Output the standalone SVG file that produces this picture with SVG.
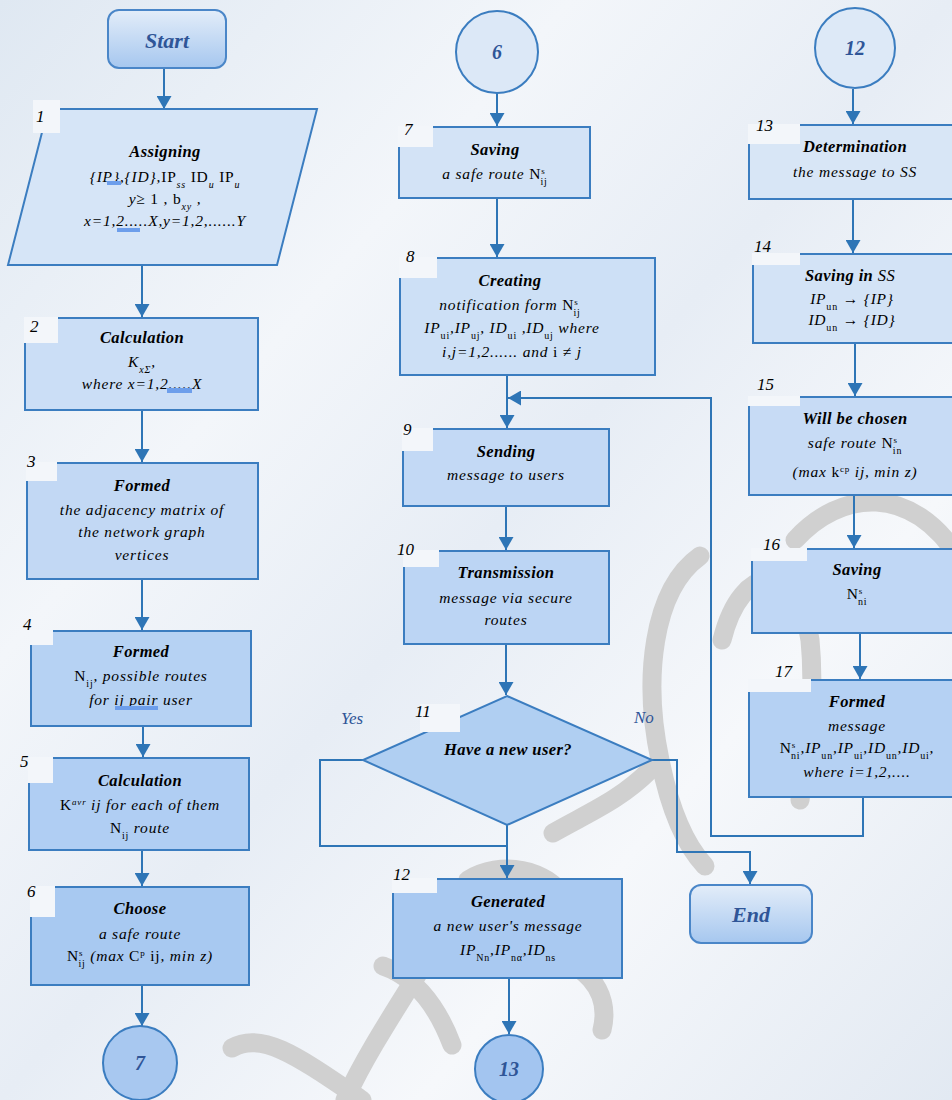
<svg xmlns="http://www.w3.org/2000/svg" width="952" height="1100" viewBox="0 0 952 1100">
<defs>
<linearGradient id="bg" x1="0" y1="0" x2="1" y2="1">
<stop offset="0" stop-color="#dfe8f2"/>
<stop offset="0.3" stop-color="#f3f6fa"/>
<stop offset="0.5" stop-color="#e7edf5"/>
<stop offset="0.72" stop-color="#f6f8fb"/>
<stop offset="1" stop-color="#e2e9f2"/>
</linearGradient>
<linearGradient id="term" x1="0" y1="0" x2="0" y2="1">
<stop offset="0" stop-color="#e3edf9"/>
<stop offset="1" stop-color="#a6c7ef"/>
</linearGradient>
<marker id="ah" markerWidth="15" markerHeight="15" refX="13" refY="7.5" orient="auto" markerUnits="userSpaceOnUse">
<path d="M0,0 L13,7.5 L0,15 Z" fill="#2e75b6"/>
</marker>
</defs>
<style>
.box{stroke:#3b7dc0;stroke-width:2;}
.term{fill:url(#term);stroke:#4a86c8;stroke-width:2;}
.circ{stroke:#3b7dc0;stroke-width:2;}
.notch{fill:#f3f6fa;}
.conn{fill:none;stroke:#2e75b6;stroke-width:2;}
.arr{marker-end:url(#ah);}
.wm{fill:none;stroke:#d0d0d0;stroke-width:19;stroke-linecap:round;}
text{font-family:"Liberation Serif","DejaVu Serif",serif;font-style:italic;fill:#000;}
.t{font-size:16.5px;font-weight:bold;text-anchor:middle;letter-spacing:0.4px;}
.b{font-size:15.5px;text-anchor:middle;letter-spacing:0.8px;}
.n{font-size:17px;}
.m{font-style:normal;}
.blue{fill:#2f5597;font-weight:bold;text-anchor:middle;}
.yn{font-size:17px;fill:#2f5597;}
.hl{fill:#6d9eeb;}
</style>
<rect x="0" y="0" width="952" height="1100" fill="url(#bg)"/>

<g id="watermark">
<path class="wm" d="M232 1048 C262 1030 300 1058 362 1100"/>
<path class="wm" d="M345 1100 C372 1040 420 975 470 888"/>
<path class="wm" d="M383 966 C410 975 435 1000 452 1045"/>
<path class="wm" d="M468 880 C500 860 548 868 566 900 C580 930 560 948 540 958 C582 958 612 990 602 1030"/>
<path class="wm" d="M553 833 C590 812 620 800 650 770"/>
<path class="wm" d="M700 556 C652 590 643 680 660 760 C672 820 690 850 705 866"/>
<path class="wm" d="M722 640 C742 560 798 560 810 640 C816 700 806 760 800 800"/>
<path class="wm" d="M795 540 C840 490 912 482 960 560"/>
</g>

<g id="connectors">
<path class="conn arr" d="M164 68 V109"/>
<path class="conn arr" d="M142 265 V317"/>
<path class="conn arr" d="M142 410 V462"/>
<path class="conn arr" d="M142 579 V630"/>
<path class="conn arr" d="M143 726 V757"/>
<path class="conn arr" d="M142 850 V886"/>
<path class="conn arr" d="M142 985 V1026"/>
<path class="conn arr" d="M497 93 V126"/>
<path class="conn arr" d="M497 198 V257"/>
<path class="conn arr" d="M507 375 V428"/>
<path class="conn arr" d="M863 797 V836 H711 V398 H508"/>
<path class="conn arr" d="M506 506 V550"/>
<path class="conn arr" d="M506 644 V695"/>
<path class="conn arr" d="M507 825 V878"/>
<path class="conn" d="M363 760 H320 V846 H507"/>
<path class="conn arr" d="M652 760 H677 V852 H750 V884"/>
<path class="conn arr" d="M509 978 V1034"/>
<path class="conn arr" d="M853 89 V124"/>
<path class="conn arr" d="M853 199 V253"/>
<path class="conn arr" d="M855 343 V396"/>
<path class="conn arr" d="M854 495 V548"/>
<path class="conn arr" d="M860 633 V679"/>
</g>

<g id="start">
<rect class="term" x="108" y="10" width="118" height="58" rx="11"/>
<text class="blue" x="167" y="48" font-size="22">Start</text>
</g>

<g id="n1">
<polygon class="box" fill="#d6e5f7" points="48,109 317,109 277,265 8,265"/>
<rect class="notch" x="33" y="100" width="27" height="33"/>
<text class="n" x="36" y="122">1</text>
<text class="t" x="165" y="157">Assigning</text>
<text class="b" x="165" y="182">{IP},{ID},<tspan class="m">IP</tspan><tspan font-size="10" baseline-shift="sub">ss</tspan> <tspan class="m">ID</tspan><tspan font-size="10" baseline-shift="sub">u</tspan> <tspan class="m">IP</tspan><tspan font-size="10" baseline-shift="sub">u</tspan></text>
<text class="b" x="165" y="204">y≥ <tspan class="m">1 , b</tspan><tspan font-size="10" baseline-shift="sub">xy</tspan> ,</text>
<text class="b" x="165" y="226">x=1,2.....X,y=1,2,......Y</text>
<rect class="hl" x="107" y="181" width="14" height="4"/>
<rect class="hl" x="117" y="228" width="23" height="4"/>
</g>

<g id="n2">
<rect class="box" fill="#cbdef6" x="25" y="318" width="233" height="92"/>
<rect class="notch" x="24" y="317" width="34" height="26"/>
<text class="n" x="30" y="332">2</text>
<text class="t" x="142" y="343">Calculation</text>
<text class="b" x="142" y="367">K<tspan font-size="10" baseline-shift="sub">xΣ</tspan>,</text>
<text class="b" x="142" y="389">where x=1,2.....X</text>
<rect class="hl" x="167" y="388" width="25" height="5"/>
</g>

<g id="n3">
<rect class="box" fill="#c2d8f4" x="27" y="463" width="231" height="116"/>
<rect class="notch" x="26" y="462" width="31" height="19"/>
<text class="n" x="27" y="467">3</text>
<text class="t" x="142" y="491">Formed</text>
<text class="b" x="142" y="515">the adjacency matrix of</text>
<text class="b" x="142" y="537">the network graph</text>
<text class="b" x="142" y="560">vertices</text>
</g>

<g id="n4">
<rect class="box" fill="#b6d2f3" x="31" y="631" width="220" height="95"/>
<rect class="notch" x="30" y="630" width="23" height="15"/>
<text class="n" x="23" y="630">4</text>
<text class="t" x="141" y="657">Formed</text>
<text class="b" x="141" y="681"><tspan class="m">N</tspan><tspan font-size="10" baseline-shift="sub" class="m">ij</tspan>, possible routes</text>
<text class="b" x="141" y="705">for ij pair user</text>
<rect class="hl" x="115" y="706" width="43" height="4"/>
</g>

<g id="n5">
<rect class="box" fill="#b0cef3" x="29" y="758" width="220" height="92"/>
<rect class="notch" x="28" y="757" width="25" height="26"/>
<text class="n" x="20" y="767">5</text>
<text class="t" x="140" y="786">Calculation</text>
<text class="b" x="140" y="810"><tspan class="m">K</tspan><tspan font-size="9" baseline-shift="super">avr</tspan> ij for each of them</text>
<text class="b" x="140" y="833"><tspan class="m">N</tspan><tspan font-size="10" baseline-shift="sub" class="m">ij</tspan> route</text>
</g>

<g id="n6">
<rect class="box" fill="#a8c9f1" x="31" y="887" width="218" height="98"/>
<rect class="notch" x="30" y="886" width="25" height="31"/>
<text class="n" x="27" y="897">6</text>
<text class="t" x="140" y="914">Choose</text>
<text class="b" x="140" y="939">a safe route</text>
<text class="b" x="140" y="961"><tspan class="m">N</tspan><tspan font-size="9" baseline-shift="super" class="m">s</tspan><tspan font-size="10" dx="-5" baseline-shift="sub" class="m">ij</tspan> (max <tspan class="m">C</tspan><tspan font-size="9" baseline-shift="super" class="m">p</tspan> <tspan class="m">ij</tspan>, min z)</text>
</g>

<g id="c7">
<circle class="circ" fill="#a8c8f0" cx="140" cy="1063" r="37"/>
<text class="blue" x="140" y="1070" font-size="20">7</text>
</g>

<g id="c6">
<circle class="circ" fill="#dce8f7" cx="497" cy="52" r="41"/>
<text class="blue" x="497" y="59" font-size="20" font-weight="normal">6</text>
</g>

<g id="n7">
<rect class="box" fill="#d3e3f6" x="399" y="127" width="191" height="71"/>
<rect class="notch" x="398" y="126" width="35" height="21"/>
<text class="n" x="404" y="135">7</text>
<text class="t" x="495" y="155">Saving</text>
<text class="b" x="495" y="179">a safe route <tspan class="m">N</tspan><tspan font-size="9" baseline-shift="super" class="m">s</tspan><tspan font-size="10" dx="-5" baseline-shift="sub" class="m">ij</tspan></text>
</g>

<g id="n8">
<rect class="box" fill="#cde0f6" x="400" y="258" width="255" height="117"/>
<rect class="notch" x="399" y="257" width="38" height="21"/>
<text class="n" x="406" y="262">8</text>
<text class="t" x="510" y="286">Creating</text>
<text class="b" x="510" y="310">notification form <tspan class="m">N</tspan><tspan font-size="9" baseline-shift="super" class="m">s</tspan><tspan font-size="10" dx="-5" baseline-shift="sub" class="m">ij</tspan></text>
<text class="b" x="512" y="333">IP<tspan font-size="10" baseline-shift="sub" class="m">ui</tspan>,IP<tspan font-size="10" baseline-shift="sub" class="m">uj</tspan>, ID<tspan font-size="10" baseline-shift="sub" class="m">ui</tspan> ,ID<tspan font-size="10" baseline-shift="sub" class="m">uj</tspan> where</text>
<text class="b" x="512" y="357">i,j=1,2...... and <tspan class="m">i ≠</tspan> j</text>
</g>

<g id="n9">
<rect class="box" fill="#c3d9f5" x="403" y="429" width="206" height="77"/>
<rect class="notch" x="402" y="428" width="31" height="23"/>
<text class="n" x="403" y="435">9</text>
<text class="t" x="506" y="457">Sending</text>
<text class="b" x="506" y="480">message  to users</text>
</g>

<g id="n10">
<rect class="box" fill="#bcd5f4" x="404" y="551" width="205" height="93"/>
<rect class="notch" x="403" y="550" width="36" height="17"/>
<text class="n" x="397" y="555">10</text>
<text class="t" x="506" y="578">Transmission</text>
<text class="b" x="506" y="603">message  via secure</text>
<text class="b" x="506" y="625">routes</text>
</g>

<g id="n11">
<polygon class="box" fill="#b0cff2" points="507,696 652,760 507,825 363,760"/>
<rect class="notch" x="420" y="704" width="40" height="28"/>
<text class="n" x="415" y="717">11</text>
<text class="t" x="508" y="755" font-size="16">Have a new user?</text>
</g>
<text class="yn" x="341" y="724">Yes</text>
<text class="yn" x="634" y="723">No</text>

<g id="n12">
<rect class="box" fill="#a9c9f1" x="393" y="879" width="229" height="99"/>
<rect class="notch" x="392" y="878" width="45" height="15"/>
<text class="n" x="393" y="880">12</text>
<text class="t" x="508" y="907">Generated</text>
<text class="b" x="508" y="931">a new  user's  message</text>
<text class="b" x="508" y="955">IP<tspan font-size="10" baseline-shift="sub" class="m">Nn</tspan>,IP<tspan font-size="10" baseline-shift="sub" class="m">nα</tspan>,ID<tspan font-size="10" baseline-shift="sub" class="m">ns</tspan></text>
</g>

<g id="c13">
<circle class="circ" fill="#a3c5f0" cx="509" cy="1069" r="34"/>
<text class="blue" x="509" y="1076" font-size="20">13</text>
</g>

<g id="end">
<rect class="term" x="690" y="885" width="122" height="58" rx="11"/>
<text class="blue" x="751" y="922" font-size="22">End</text>
</g>

<g id="c12">
<circle class="circ" fill="#dde9f7" cx="855" cy="48" r="40"/>
<text class="blue" x="855" y="55" font-size="20" font-weight="normal">12</text>
</g>

<g id="n13">
<rect class="box" fill="#d8e6f6" x="749" y="125" width="220" height="74"/>
<rect class="notch" x="748" y="124" width="52" height="20"/>
<text class="n" x="756" y="131">13</text>
<text class="t" x="855" y="152">Determination</text>
<text class="b" x="855" y="177">the message  to SS</text>
</g>

<g id="n14">
<rect class="box" fill="#d3e3f6" x="753" y="254" width="220" height="89"/>
<rect class="notch" x="752" y="253" width="48" height="12"/>
<text class="n" x="754" y="252">14</text>
<text class="t" x="850" y="281">Saving in <tspan font-weight="normal">SS</tspan></text>
<text class="b" x="852" y="304">IP<tspan font-size="10" baseline-shift="sub" class="m">un</tspan> <tspan class="m">→</tspan> {IP}</text>
<text class="b" x="852" y="325">ID<tspan font-size="10" baseline-shift="sub" class="m">un</tspan> <tspan class="m">→</tspan> {ID}</text>
</g>

<g id="n15">
<rect class="box" fill="#c7dbf5" x="749" y="397" width="220" height="98"/>
<rect class="notch" x="748" y="396" width="52" height="10"/>
<text class="n" x="757" y="390">15</text>
<text class="t" x="855" y="424">Will be chosen</text>
<text class="b" x="855" y="448">safe route <tspan class="m">N</tspan><tspan font-size="9" baseline-shift="super" class="m">s</tspan><tspan font-size="10" dx="-5" baseline-shift="sub" class="m">in</tspan></text>
<text class="b" x="855" y="477">(max <tspan class="m">k</tspan><tspan font-size="9" baseline-shift="super" class="m">cp</tspan> ij, min z)</text>
</g>

<g id="n16">
<rect class="box" fill="#c0d7f5" x="752" y="549" width="220" height="84"/>
<rect class="notch" x="751" y="548" width="56" height="13"/>
<text class="n" x="763" y="550">16</text>
<text class="t" x="857" y="575">Saving</text>
<text class="b" x="857" y="599"><tspan class="m">N</tspan><tspan font-size="9" baseline-shift="super" class="m">s</tspan><tspan font-size="10" dx="-5" baseline-shift="sub" class="m">ni</tspan></text>
</g>

<g id="n17">
<rect class="box" fill="#b5d1f3" x="749" y="680" width="220" height="117"/>
<rect class="notch" x="748" y="679" width="63" height="13"/>
<text class="n" x="775" y="677">17</text>
<text class="t" x="857" y="707">Formed</text>
<text class="b" x="857" y="731">message</text>
<text class="b" x="857" y="753" letter-spacing="0.2"><tspan class="m">N</tspan><tspan font-size="9" baseline-shift="super" class="m">s</tspan><tspan font-size="10" dx="-5" baseline-shift="sub" class="m">ni</tspan>,IP<tspan font-size="10" baseline-shift="sub" class="m">un</tspan>,IP<tspan font-size="10" baseline-shift="sub" class="m">ui</tspan>,ID<tspan font-size="10" baseline-shift="sub" class="m">un</tspan>,ID<tspan font-size="10" baseline-shift="sub" class="m">ui</tspan>,</text>
<text class="b" x="857" y="777">where  i=1,2,....</text>
</g>
</svg>
